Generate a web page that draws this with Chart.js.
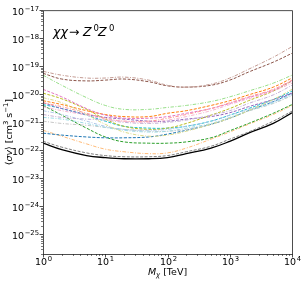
<!DOCTYPE html>
<html>
<head>
<meta charset="utf-8">
<script src="https://cdn.jsdelivr.net/npm/chart.js@4"></script>
<style>
  html, body { margin: 0; padding: 0; background: #fff; }
  canvas { display: block; }
</style>
</head>
<body>
<canvas id="limitChart" width="304" height="282"></canvas>
<script>
// dark matter mass grid [TeV]
const masses = [1, 2, 5, 10, 20, 50, 100, 200, 500, 1000, 2000, 5000, 10000];

// <sigma v> upper limits [cm^3 s^-1], one array per curve
const brown = [5.6e-20, 3.5e-20, 3.0e-20, 3.2e-20, 3.5e-20, 2.8e-20, 2.0e-20, 1.8e-20, 2.1e-20, 3.2e-20, 6.2e-20, 1.4e-19, 2.9e-19];
const lightBrown = [6.6e-20, 4.8e-20, 3.8e-20, 3.8e-20, 4.1e-20, 3.2e-20, 2.1e-20, 1.8e-20, 2.3e-20, 3.8e-20, 7.8e-20, 2.1e-19, 5.0e-19];
const lightGreen = [4.8e-20, 2.1e-20, 7.6e-21, 4.0e-21, 2.9e-21, 2.9e-21, 3.4e-21, 4.0e-21, 5.5e-21, 8.1e-21, 1.3e-20, 2.5e-20, 4.8e-20];
const pink = [1.5e-20, 8.1e-21, 3.1e-21, 1.8e-21, 1.4e-21, 1.4e-21, 1.6e-21, 2.1e-21, 3.1e-21, 4.7e-21, 7.6e-21, 1.4e-20, 3.0e-20];
const orange = [5.9e-21, 4.3e-21, 2.6e-21, 1.9e-21, 1.6e-21, 1.6e-21, 2.1e-21, 2.6e-21, 4.0e-21, 5.9e-21, 9.5e-21, 1.8e-20, 3.8e-20];
const lightRed = [5.0e-21, 3.6e-21, 2.1e-21, 1.4e-21, 1.1e-21, 1.1e-21, 1.4e-21, 1.9e-21, 3.1e-21, 5.0e-21, 8.1e-21, 1.5e-20, 3.2e-20];
const lightPink = [3.6e-21, 2.6e-21, 1.8e-21, 1.3e-21, 1.1e-21, 1.0e-21, 1.2e-21, 1.6e-21, 2.6e-21, 4.3e-21, 6.9e-21, 1.3e-20, 2.5e-20];
const olive = [1.1e-20, 6.9e-21, 2.9e-21, 1.3e-21, 7.2e-22, 5.6e-22, 6.2e-22, 9.1e-22, 1.8e-21, 3.1e-21, 5.9e-21, 1.3e-20, 3.0e-20];
const lightOlive = [7.6e-21, 5.0e-21, 1.9e-21, 8.5e-22, 4.5e-22, 3.2e-22, 3.5e-22, 4.8e-22, 8.5e-22, 1.4e-21, 2.6e-21, 6.5e-21, 1.5e-20];
const purple = [5.0e-21, 3.1e-21, 1.9e-21, 1.5e-21, 1.3e-21, 1.1e-21, 1.1e-21, 1.3e-21, 1.6e-21, 2.2e-21, 3.6e-21, 6.5e-21, 1.1e-20];
const lightPurple = [1.9e-21, 1.5e-21, 1.3e-21, 1.2e-21, 1.0e-21, 9.1e-22, 1.0e-21, 1.2e-21, 1.8e-21, 2.6e-21, 4.7e-21, 9.5e-21, 2.1e-20];
const cyan = [4.3e-21, 3.1e-21, 1.8e-21, 1.1e-21, 7.2e-22, 6.2e-22, 6.2e-22, 7.2e-22, 1.1e-21, 1.8e-21, 3.1e-21, 6.5e-21, 1.3e-20];
const blue = [4.1e-22, 3.5e-22, 3.0e-22, 2.8e-22, 2.8e-22, 3.0e-22, 3.8e-22, 5.2e-22, 8.5e-22, 1.4e-21, 2.6e-21, 5.5e-21, 1.1e-20];
const lightBlue = [2.6e-21, 1.9e-21, 1.1e-21, 7.2e-22, 5.6e-22, 5.2e-22, 5.6e-22, 7.2e-22, 1.1e-21, 1.8e-21, 2.9e-21, 5.5e-21, 1.0e-20];
const lightCyan = [1.5e-21, 1.3e-21, 9.1e-22, 6.6e-22, 5.2e-22, 4.5e-22, 4.8e-22, 6.2e-22, 9.1e-22, 1.5e-21, 2.6e-21, 5.0e-21, 9.5e-21];
const lightGray = [1.1e-21, 9.1e-22, 7.8e-22, 6.6e-22, 5.6e-22, 4.8e-22, 4.8e-22, 5.6e-22, 8.5e-22, 1.4e-21, 2.5e-21, 4.7e-21, 8.9e-21];
const green = [4.0e-21, 1.8e-21, 6.2e-22, 3.0e-22, 2.0e-22, 1.8e-22, 1.8e-22, 2.0e-22, 2.8e-22, 5.0e-22, 9.1e-22, 2.1e-21, 4.3e-21];
const lightOrange = [5.2e-22, 3.2e-22, 1.7e-22, 1.1e-22, 8.9e-23, 7.6e-23, 8.1e-23, 1.2e-22, 2.5e-22, 4.5e-22, 8.5e-22, 1.9e-21, 4.0e-21];
const gray = [2.1e-22, 1.3e-22, 8.1e-23, 6.5e-23, 5.9e-23, 5.9e-23, 6.5e-23, 8.9e-23, 1.4e-22, 2.5e-22, 4.5e-22, 1.1e-21, 2.5e-21];
const combined = [1.8e-22, 1.05e-22, 6.5e-23, 5.5e-23, 5.0e-23, 5.0e-23, 5.5e-23, 7.6e-23, 1.2e-22, 2.1e-22, 4.1e-22, 9.1e-22, 2.2e-21];

const FONT = "'DejaVu Sans', sans-serif";

function pts(arr) {
  return masses.map((m, i) => ({ x: m, y: arr[i] }));
}

function curve(arr, color, dash) {
  return {
    data: pts(arr),
    borderColor: color,
    borderWidth: 1,
    borderDash: dash,
    pointRadius: 0,
    tension: 0.4,
    fill: false
  };
}

const DASH = [3, 1.5];
const DASHDOT = [3.5, 1.5, 1, 1.5];

const datasets = [
  curve(lightBrown, '#c49c94', DASHDOT),
  curve(brown, '#8c564b', DASH),
  curve(lightGreen, '#98df8a', DASHDOT),
  curve(lightPink, '#f7b6d2', DASHDOT),
  curve(lightRed, '#ff9896', DASHDOT),
  curve(lightPurple, '#c5b0d5', DASHDOT),
  curve(lightOlive, '#dbdb8d', DASHDOT),
  curve(lightBlue, '#aec7e8', DASHDOT),
  curve(lightCyan, '#9edae5', DASHDOT),
  curve(lightGray, '#c7c7c7', DASHDOT),
  curve(pink, '#e377c2', DASH),
  curve(orange, '#ff7f0e', DASH),
  curve(olive, '#bcbd22', DASH),
  curve(purple, '#9467bd', DASH),
  curve(cyan, '#17becf', DASH),
  curve(blue, '#1f77b4', DASH),
  curve(green, '#2ca02c', DASH),
  curve(lightOrange, '#ffbb78', DASHDOT),
  curve(gray, '#7f7f7f', DASH),
  { ...curve(combined, '#000000', []), borderWidth: 1.3 }
];

// major + minor log ticks between lo and hi
function logTicks(lo, hi) {
  const out = [];
  for (let e = Math.floor(Math.log10(lo)); e <= Math.ceil(Math.log10(hi)); e++) {
    for (let m = 1; m <= 9; m++) {
      const v = Number((m + 'e' + e));
      if (v >= lo * 0.999 && v <= hi * 1.001) out.push({ value: v, major: m === 1 });
    }
  }
  return out;
}

// "10" with a raised exponent, like mathtext
function powerLabel(ctx, exp, x, y, align) {
  ctx.font = '9.5px ' + FONT;
  const wb = ctx.measureText('10').width;
  ctx.font = '6.8px ' + FONT;
  const e = String(exp).replace('-', '\u2212');
  const we = ctx.measureText(e).width;
  const w = wb + we + 0.5;
  const x0 = align === 'right' ? x - w : x - w / 2;
  ctx.font = '9.5px ' + FONT;
  ctx.fillText('10', x0, y);
  ctx.font = '6.8px ' + FONT;
  ctx.fillText(e, x0 + wb + 0.5, y - 4);
}

// runs of [text, style, dy]; drawn left to right from x
function runs(ctx, parts, x, y) {
  parts.forEach(([txt, font, dy]) => {
    ctx.font = font;
    ctx.fillText(txt, x, y + dy);
    x += ctx.measureText(txt).width;
  });
}
function runsWidth(ctx, parts) {
  return parts.reduce((w, [txt, font]) => { ctx.font = font; return w + ctx.measureText(txt).width; }, 0);
}

const frame = {
  id: 'frame',
  afterDraw(chart) {
    const { ctx, chartArea: a, scales } = chart;
    ctx.save();
    ctx.strokeStyle = '#222';
    ctx.fillStyle = '#000';
    ctx.textBaseline = 'alphabetic';
    [scales.x, scales.y].forEach(s => {
      s.ticks.forEach(t => {
        const len = t.major ? 3.5 : 2;
        ctx.lineWidth = t.major ? 0.8 : 0.6;
        const p = Math.round(s.getPixelForValue(t.value)) + 0.5;
        ctx.beginPath();
        if (s.axis === 'x') {
          ctx.moveTo(p, a.bottom); ctx.lineTo(p, a.bottom + len);
        } else {
          ctx.moveTo(a.left, p); ctx.lineTo(a.left - len, p);
        }
        ctx.stroke();
        if (t.major) {
          const exp = Math.round(Math.log10(t.value));
          if (s.axis === 'x') powerLabel(ctx, exp, p, a.bottom + 11, 'center');
          else powerLabel(ctx, exp, a.left - 4, p + 4, 'right');
        }
      });
    });
    ctx.lineWidth = 0.8;
    ctx.strokeRect(a.left + 0.5, a.top + 0.5, a.right - a.left, a.bottom - a.top);

    // annotation  chi chi -> Z0 Z0
    const by = 36;
    ctx.font = 'italic 12.5px ' + FONT;
    ctx.fillText('χχ', 53, by);
    ctx.font = '12.5px ' + FONT;
    ctx.fillText('→', 69, by);
    ctx.font = 'italic 12.5px ' + FONT;
    ctx.fillText('Z', 83, by);
    ctx.fillText('Z', 98, by);
    ctx.font = '8.5px ' + FONT;
    ctx.fillText('0', 93.5, by - 5);
    ctx.fillText('0', 109, by - 5);

    const N = '9.5px ' + FONT, I = 'italic 9.5px ' + FONT;
    const S = '6.8px ' + FONT, SI = 'italic 6.8px ' + FONT;

    // x title  M_chi [TeV]
    const xParts = [['M', I, 0], ['χ', SI, 2], [' [TeV]', N, 0]];
    const xc = (a.left + a.right) / 2;
    runs(ctx, xParts, xc - runsWidth(ctx, xParts) / 2, 275);

    // y title  <sigma v> [cm^3 s^-1]
    const yParts = [['⟨', N, 0], ['σv', I, 0], ['⟩ [cm', N, 0], ['3', S, -4], [' s', N, 0], ['\u22121', S, -4], [']', N, 0]];
    ctx.translate(11.5, (a.top + a.bottom) / 2);
    ctx.rotate(-Math.PI / 2);
    runs(ctx, yParts, -runsWidth(ctx, yParts) / 2, 0);
    ctx.restore();
  }
};

new Chart(document.getElementById('limitChart'), {
  type: 'line',
  data: { datasets },
  options: {
    responsive: false,
    animation: false,
    layout: { padding: { left: 0, right: 12, top: 6, bottom: 0 } },
    plugins: {
      legend: { display: false },
      tooltip: { enabled: false }
    },
    scales: {
      x: {
        type: 'logarithmic',
        min: 1,
        max: 10000,
        grid: { display: false },
        border: { display: false },
        afterBuildTicks: (s) => { s.ticks = logTicks(1, 10000); },
        afterFit: (s) => { s.height = 28; },
        ticks: { autoSkip: false, maxRotation: 0, callback: () => '' }
      },
      y: {
        type: 'logarithmic',
        min: 2e-26,
        max: 1e-17,
        grid: { display: false },
        border: { display: false },
        afterBuildTicks: (s) => { s.ticks = logTicks(2e-26, 1e-17); },
        afterFit: (s) => { s.width = 43; },
        ticks: { autoSkip: false, callback: () => '' }
      }
    }
  },
  plugins: [frame]
});
</script>
</body>
</html>
